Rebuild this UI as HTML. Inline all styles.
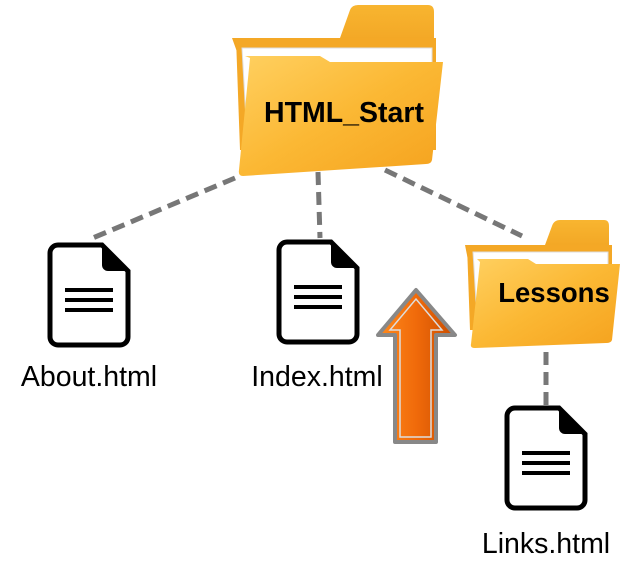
<!DOCTYPE html>
<html><head><style>
html,body{margin:0;padding:0;background:#fff;}
svg{display:block;font-family:"Liberation Sans",Arial,sans-serif;}
</style></head><body>
<svg width="634" height="578" viewBox="0 0 634 578">
<defs>
<linearGradient id="fb" x1="0" y1="0" x2="0" y2="1"><stop offset="0" stop-color="#f8b530"/><stop offset="1" stop-color="#f0a020"/></linearGradient>
<linearGradient id="ff" x1="0" y1="0" x2="1" y2="1"><stop offset="0" stop-color="#ffd060"/><stop offset="0.5" stop-color="#fbb834"/><stop offset="1" stop-color="#f5a21e"/></linearGradient>
<linearGradient id="ar" x1="0" y1="0" x2="1" y2="0"><stop offset="0" stop-color="#ff8a1c"/><stop offset="0.5" stop-color="#f06a0a"/><stop offset="1" stop-color="#c94d00"/></linearGradient>
<g id="doc">
<path d="M8,0 H52 L78,26 V92 a8,8 0 0 1 -8,8 H8 a8,8 0 0 1 -8,-8 V8 a8,8 0 0 1 8,-8 Z" fill="#fff" stroke="#000" stroke-width="5"/>
<path d="M52,0 L78,26 H58 a6,6 0 0 1 -6,-6 Z" fill="#000"/>
<rect x="15" y="43" width="48" height="4" fill="#000"/>
<rect x="15" y="53" width="48" height="4" fill="#000"/>
<rect x="15" y="63" width="48" height="4" fill="#000"/>
</g>
</defs>
<g stroke="#777" stroke-width="5" stroke-dasharray="13 7" fill="none">
<line x1="235" y1="178" x2="88" y2="240"/>
<line x1="318" y1="172" x2="320" y2="238"/>
<line x1="385" y1="170" x2="522" y2="236"/>
<line x1="546" y1="352" x2="546" y2="405"/>
</g>
<path d="M232,38 H340 L350,10 Q352,5 358,5 H428 Q434,5 434,12 V60 H240 Z" fill="url(#fb)"/>
<path d="M236,38 H436 V150 H240 Z" fill="#f4a826"/>
<path d="M242,48 H432 V155 H248 Z" fill="#fff" stroke="#ddd"/>
<path d="M250,58 L245,56 H320 L330,62 H443 L432,160 Q431,164 426,164 L243,176 Q238,176 239,170 Z" fill="url(#ff)"/>
<text x="344" y="122" font-size="28.5" font-weight="bold" text-anchor="middle" fill="#000">HTML_Start</text>
<path d="M465,245 H545 L552,226 Q554,220 560,220 H604 Q609,220 609,226 V260 H468 Z" fill="url(#fb)"/>
<path d="M467,245 H612 V330 H470 Z" fill="#f4a826"/>
<path d="M473,252 H608 V335 H478 Z" fill="#fff" stroke="#ddd"/>
<path d="M480,262 L477,259 H528 L536,264 H620 L612,340 Q611,343 606,343 L475,348 Q470,348 471,344 Z" fill="url(#ff)"/>
<text x="554" y="302" font-size="27.5" font-weight="bold" text-anchor="middle" fill="#000">Lessons</text>
<use href="#doc" x="50" y="245"/>
<use href="#doc" x="279" y="242"/>
<use href="#doc" x="507" y="408"/>
<g font-size="28.5" fill="#000" text-anchor="middle">
<text x="89" y="386">About.html</text>
<text x="317" y="386">Index.html</text>
<text x="546" y="553">Links.html</text>
</g>
<path d="M395,442 V335 H378 L416,290 L455,335 H436 V442 Z" fill="url(#ar)" stroke="#888" stroke-width="4" stroke-linejoin="round"/>
<path d="M400,437 V330 H390 L416,299 L442,330 H431 V437 Z" fill="none" stroke="#ddd" stroke-width="1.5"/>
</svg>
</body></html>
